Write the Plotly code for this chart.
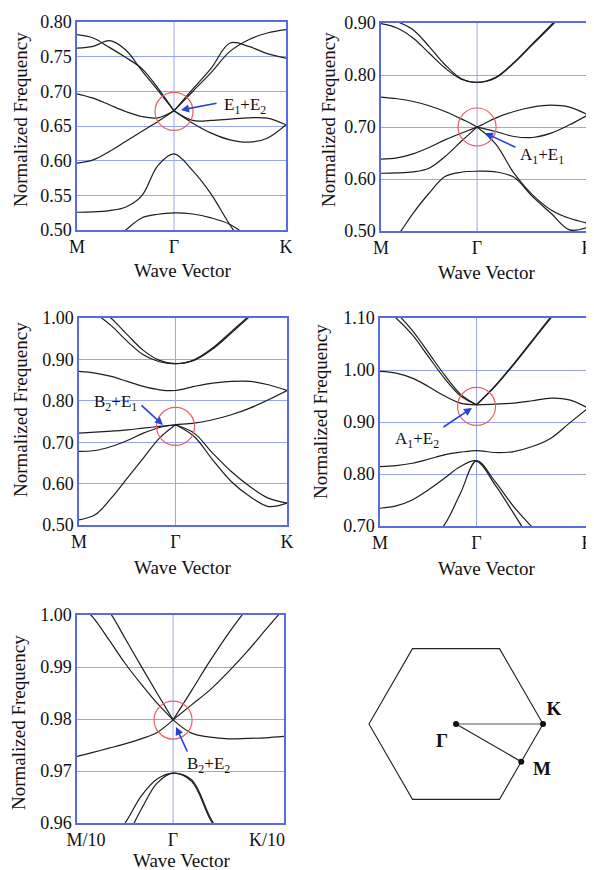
import plotly.graph_objects as go

OFF = 8                      # page body margin of the html page
W, H = 594 - OFF, 870 - OFF  # figure size so that it fills the window
FONT = "Liberation Serif"
LINE_C = "#5a6ae6"
GRID_C = "#9aa4ee"
CURVE_C = "#1e1e1e"

# wave-vector sample points (M ... Gamma ... K), |GM| = 0.866 |GK|
K_GRID = [-0.866, -0.722, -0.577, -0.433, -0.289, -0.144, 0.0, 0.167, 0.333, 0.5, 0.667, 0.833, 1.0]

# ---------------- panel 1 ----------------
p1_b0 = [0.5256, 0.5260, 0.5280, 0.5328, 0.5491, 0.5930, 0.6098, 0.5857, 0.5515, 0.5072, 0.470, 0.440, 0.410]
p1_bm = [0.440, 0.460, 0.482, 0.4997, 0.5174, 0.5227, 0.5246, 0.5231, 0.5174, 0.5080, 0.490, 0.470, 0.450]
p1_b1 = [0.5963, 0.6011, 0.6132, 0.6276, 0.6421, 0.6565, 0.6719, 0.6541, 0.6397, 0.6300, 0.6267, 0.6324, 0.6517]
p1_b2 = [0.6965, 0.6902, 0.6806, 0.6710, 0.6637, 0.6618, 0.6719, 0.6580, 0.6580, 0.6599, 0.6618, 0.6613, 0.6517]
p1_b3 = [0.7624, 0.7649, 0.7730, 0.7600, 0.7302, 0.7013, 0.6719, 0.7032, 0.7336, 0.7697, 0.7649, 0.7543, 0.7480]
p1_b4 = [0.7817, 0.7769, 0.7634, 0.7490, 0.7331, 0.7047, 0.6719, 0.6998, 0.7273, 0.7576, 0.7745, 0.7841, 0.7889]

# ---------------- panel 2 ----------------
p2_t1 = [0.8987, 0.8904, 0.8711, 0.8422, 0.8133, 0.7921, 0.7857, 0.7941, 0.8230, 0.8583, 0.8936, 0.930, 0.960]
p2_t2 = [0.915, 0.903, 0.8872, 0.8551, 0.8198, 0.7934, 0.7857, 0.7954, 0.8242, 0.8602, 0.8961, 0.935, 0.965]
p2_a = [0.7575, 0.7543, 0.7491, 0.7408, 0.7299, 0.7157, 0.6997, 0.6676, 0.6111, 0.5694, 0.5405, 0.5244, 0.5148]
p2_b = [0.6381, 0.6406, 0.6483, 0.6605, 0.6753, 0.6881, 0.6997, 0.7170, 0.7299, 0.7383, 0.7421, 0.7383, 0.7234]
p2_c = [0.6111, 0.6117, 0.6137, 0.6208, 0.6432, 0.6721, 0.6997, 0.6914, 0.6817, 0.6798, 0.6881, 0.7042, 0.7234]
p2_p = [0.460, 0.490, 0.5341, 0.5726, 0.6047, 0.6130, 0.6149, 0.6137, 0.6034, 0.5661, 0.5340, 0.5022, 0.5073]

# ---------------- panel 3 ----------------
p3_ta = [1.040, 1.012, 0.9815, 0.9436, 0.9113, 0.8944, 0.8896, 0.8976, 0.9250, 0.9637, 1.004, 1.045, 1.085]
p3_tb = [1.060, 1.030, 0.9992, 0.9597, 0.9218, 0.8976, 0.8896, 0.8992, 0.9275, 0.9670, 1.007, 1.050, 1.090]
p3_f = [0.8710, 0.8670, 0.8589, 0.8468, 0.8347, 0.8266, 0.8249, 0.8347, 0.8428, 0.8468, 0.8468, 0.8388, 0.8249]
p3_x = [0.7219, 0.7243, 0.7268, 0.7300, 0.7340, 0.7380, 0.7421, 0.7461, 0.7542, 0.7663, 0.7824, 0.8025, 0.8249]
p3_y = [0.6776, 0.6800, 0.6897, 0.7042, 0.7219, 0.7356, 0.7421, 0.7219, 0.6736, 0.6292, 0.5930, 0.5648, 0.5527]
p3_z = [0.5124, 0.5245, 0.5648, 0.6131, 0.6615, 0.7098, 0.7421, 0.7139, 0.6574, 0.6051, 0.5688, 0.5446, 0.5527]

# ---------------- panel 4 ----------------
p4_t1 = [1.125, 1.100, 1.0679, 1.0262, 0.9844, 0.9504, 0.9331, 0.9684, 1.0101, 1.0551, 1.100, 1.140, 1.180]
p4_t2 = [1.135, 1.110, 1.0762, 1.0339, 0.9909, 0.9536, 0.9331, 0.9697, 1.0120, 1.0570, 1.102, 1.142, 1.182]
p4_f = [0.9973, 0.9941, 0.9844, 0.9684, 0.9504, 0.9363, 0.9331, 0.9344, 0.9363, 0.9408, 0.9459, 0.9427, 0.9267]
p4_g = [0.8143, 0.8162, 0.8207, 0.8284, 0.8368, 0.8419, 0.8451, 0.8413, 0.8432, 0.8528, 0.8689, 0.8978, 0.9267]
p4_l1 = [0.7341, 0.7386, 0.7501, 0.7694, 0.7918, 0.8143, 0.8252, 0.7790, 0.7244, 0.668, 0.620, 0.580, 0.560]
p4_l2 = [0.610, 0.620, 0.640, 0.670, 0.7020, 0.7630, 0.8252, 0.7854, 0.7373, 0.6975, 0.660, 0.630, 0.610]

# ---------------- panel 5 (zoomed: M/10 ... K/10) ----------------
p5_t1 = [1.0025, 0.99955, 0.9952, 0.99072, 0.98675, 0.98304, 0.97984, 0.98272, 0.9856, 0.98912, 0.99296, 0.99712, 1.00128]
p5_t2 = [1.0065, 1.0035, 1.00064, 0.99552, 0.99021, 0.98496, 0.97984, 0.98547, 0.99117, 0.99648, 1.00128, 1.006, 1.011]
p5_lo = [0.9728, 0.97357, 0.9744, 0.97523, 0.97619, 0.97741, 0.97984, 0.97728, 0.97651, 0.97619, 0.97626, 0.97638, 0.97664]
p5_p1 = [0.950, 0.953, 0.9565, 0.960, 0.96512, 0.96845, 0.9696, 0.96832, 0.96115, 0.955, 0.950, 0.945, 0.940]
p5_p2 = [0.948, 0.951, 0.954, 0.957, 0.96256, 0.96768, 0.9696, 0.96800, 0.96077, 0.955, 0.950, 0.945, 0.940]

# bands: (values, kinked at Gamma?)
PANEL_BANDS = [
    [(p1_b0, False), (p1_bm, False), (p1_b1, True), (p1_b2, True), (p1_b3, True), (p1_b4, True)],
    [(p2_t1, False), (p2_t2, False), (p2_a, False), (p2_b, False), (p2_c, True), (p2_p, False)],
    [(p3_ta, False), (p3_tb, False), (p3_f, False), (p3_x, False), (p3_y, True), (p3_z, True)],
    [(p4_t1, True), (p4_t2, True), (p4_f, True), (p4_g, False), (p4_l1, False), (p4_l2, False)],
    [(p5_t1, True), (p5_t2, True), (p5_lo, True), (p5_p1, False), (p5_p2, False)],
]

Y_RANGES = [(0.50, 0.80), (0.50, 0.90), (0.50, 1.00), (0.70, 1.10), (0.96, 1.00)]
Y_TICKS = [
    [0.50, 0.55, 0.60, 0.65, 0.70, 0.75, 0.80],
    [0.50, 0.60, 0.70, 0.80, 0.90],
    [0.50, 0.60, 0.70, 0.80, 0.90, 1.00],
    [0.70, 0.80, 0.90, 1.00, 1.10],
    [0.96, 0.97, 0.98, 0.99, 1.00],
]
X_TICKTEXT = [["M", "Γ", "K"]] * 4 + [["M/10", "Γ", "K/10"]]
X_TICKVALS = [[-0.866, 0, 1.0]] * 4 + [[-0.785, 0, 0.847]]

# degeneracy labels
DEG_LABELS = ["E<sub>1</sub>+E<sub>2</sub>", "A<sub>1</sub>+E<sub>1</sub>", "B<sub>2</sub>+E<sub>1</sub>",
              "A<sub>1</sub>+E<sub>2</sub>", "B<sub>2</sub>+E<sub>2</sub>"]
DEG_FREQ = [0.671, 0.700, 0.738, 0.930, 0.9798]

# layout geometry (window pixels: left, right, top, bottom)
BOXES = [(77, 286, 22, 230), (381, 588, 23, 231), (79, 287, 318, 525), (380, 588, 318, 526), (77, 284, 615, 823)]
# arrow head (px), arrow tail offset (px), label left/centre (px)
ARROWS = [((181, 110), (37, -7), (222, 106)),
          ((485, 133), (32, 15), (518, 156)),
          ((163, 425), (-23, -21), (92, 403)),
          ((472, 408), (-30, 20), (393, 440)),
          ((176, 727), (12, 26), (185, 765))]
YTITLE_POS = [(20, 120), (328, 120), (20, 410), (320, 412), (18, 723)]
XTITLE_POS = [(182, 270), (486, 272), (182, 567), (486, 568), (181, 860)]


def px(x, y):
    return (x - OFF) / W, 1 - (y - OFF) / H


fig = go.Figure()
annotations = []
shapes = []

for i, bands in enumerate(PANEL_BANDS):
    n = i + 1
    xa, ya = ("x", "y") if n == 1 else (f"x{n}", f"y{n}")
    for vals, kink in bands:
        segs = [(0, 7), (6, 13)] if kink else [(0, 13)]
        for a, b in segs:
            fig.add_trace(go.Scatter(
                x=K_GRID[a:b], y=vals[a:b], mode="lines", xaxis=xa, yaxis=ya,
                line=dict(color=CURVE_C, width=1.2, shape="spline", smoothing=1.0),
                hoverinfo="skip", showlegend=False))
    l, r, t, btm = BOXES[i]
    x0, y1 = px(l, t)
    x1, y0 = px(r, btm)
    common = dict(showline=True, mirror=True, linecolor=LINE_C, linewidth=1.5, automargin=False,
                  zeroline=False, ticks="", ticklabeloverflow="allow",
                  tickfont=dict(family=FONT, size=18, color="#111"))
    fig.update_layout(**{
        ("xaxis" if n == 1 else f"xaxis{n}"): dict(
            domain=[x0, x1], range=[-0.866, 1.0], anchor=ya, showgrid=False,
            tickmode="array", tickvals=X_TICKVALS[i], ticktext=X_TICKTEXT[i], **common),
        ("yaxis" if n == 1 else f"yaxis{n}"): dict(
            domain=[y0, y1], range=list(Y_RANGES[i]), anchor=xa, showgrid=True,
            gridcolor=GRID_C, gridwidth=1, tickmode="array", tickvals=Y_TICKS[i],
            tickformat=".2f", **common),
    })
    # vertical grid line at Gamma
    shapes.append(dict(type="line", xref=xa, yref=f"{ya} domain", x0=0, x1=0, y0=0, y1=1,
                       line=dict(color=GRID_C, width=1), layer="below"))
    # red circle at the degeneracy
    shapes.append(dict(type="circle", xref=xa, yref=ya, xsizemode="pixel", ysizemode="pixel",
                       xanchor=0, yanchor=DEG_FREQ[i], x0=-19, x1=19, y0=-19, y1=19,
                       line=dict(color="#e8605c", width=1.2)))
    # arrow
    (hx, hy), (dx, dy), (lx, ly) = ARROWS[i]
    ax_, ay_ = px(hx, hy)
    annotations.append(dict(xref="paper", yref="paper", x=ax_, y=ay_, ax=dx, ay=dy, text="",
                            showarrow=True, arrowhead=2, arrowsize=1, arrowwidth=1.6,
                            arrowcolor="#2244dd", standoff=0))
    tx, ty = px(lx, ly)
    annotations.append(dict(xref="paper", yref="paper", x=tx, y=ty, xanchor="left", yanchor="middle",
                            text=DEG_LABELS[i], showarrow=False,
                            font=dict(family=FONT, size=17, color="#111")))
    # axis titles
    yx, yy = px(*YTITLE_POS[i])
    annotations.append(dict(xref="paper", yref="paper", x=yx, y=yy, text="Normalized Frequency",
                            textangle=-90, showarrow=False, xanchor="center", yanchor="middle",
                            font=dict(family=FONT, size=19, color="#111")))
    wx, wy = px(*XTITLE_POS[i])
    annotations.append(dict(xref="paper", yref="paper", x=wx, y=wy, text="Wave Vector",
                            showarrow=False, xanchor="center", yanchor="middle",
                            font=dict(family=FONT, size=19, color="#111")))

# ---------------- Brillouin zone sketch ----------------
HEX_X = [1.0, 0.5, -0.5, -1.0, -0.5, 0.5, 1.0]
HEX_Y = [0.0, 0.866, 0.866, 0.0, -0.866, -0.866, 0.0]
PTS_NAME = ["Γ", "K", "M"]
PTS_X = [0.0, 1.0, 0.75]
PTS_Y = [0.0, 0.0, -0.433]
LBL_X = [-0.161, 1.126, 0.989]
LBL_Y = [-0.207, 0.161, -0.529]

fig.add_trace(go.Scatter(x=HEX_X, y=HEX_Y, mode="lines", xaxis="x6", yaxis="y6",
                         line=dict(color="#222", width=1.1), hoverinfo="skip", showlegend=False))
fig.add_trace(go.Scatter(x=[PTS_X[0], PTS_X[1]], y=[PTS_Y[0], PTS_Y[1]], mode="lines", xaxis="x6", yaxis="y6",
                         line=dict(color="#555", width=1.1), hoverinfo="skip", showlegend=False))
fig.add_trace(go.Scatter(x=[PTS_X[0], PTS_X[2]], y=[PTS_Y[0], PTS_Y[2]], mode="lines", xaxis="x6", yaxis="y6",
                         line=dict(color="#222", width=1.2), hoverinfo="skip", showlegend=False))
fig.add_trace(go.Scatter(x=PTS_X, y=PTS_Y, mode="markers", xaxis="x6", yaxis="y6",
                         marker=dict(color="#111", size=6), hoverinfo="skip", showlegend=False))
fig.add_trace(go.Scatter(x=LBL_X, y=LBL_Y, mode="text", text=[f"<b>{s}</b>" for s in PTS_NAME],
                         xaxis="x6", yaxis="y6", textfont=dict(family=FONT, size=19, color="#111"),
                         hoverinfo="skip", showlegend=False))
hx0, hy1 = px(340, 620)
hx1, hy0 = px(580, 830)
fig.update_layout(
    xaxis6=dict(domain=[hx0, hx1], range=[-1.333, 1.425], visible=False, anchor="y6"),
    yaxis6=dict(domain=[hy0, hy1], range=[-1.218, 1.195], visible=False, anchor="x6"),
)

fig.update_layout(width=W, height=H, margin=dict(l=0, r=0, t=0, b=0),
                  paper_bgcolor="white", plot_bgcolor="white", showlegend=False,
                  annotations=annotations, shapes=shapes)
fig.write_html("out.html")
